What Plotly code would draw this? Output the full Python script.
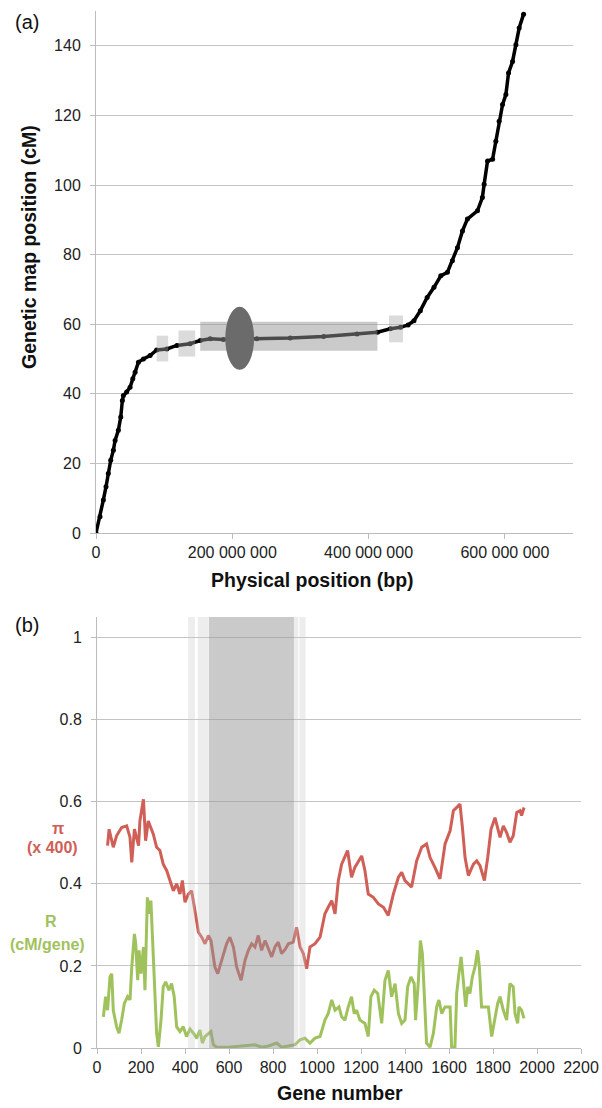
import plotly.graph_objects as go

# ---------------- Panel (a): genetic vs physical map ----------------
phys_pos_bp = [0, 5.9e6, 10.8e6, 14.7e6, 18e6, 21.6e6, 25.5e6, 28e6, 32.8e6, 36.3e6,
               38.7e6, 40.2e6, 45e6, 50e6, 54e6, 57.4e6, 62.3e6, 69.6e6, 79.4e6, 89e6,
               104e6, 118.7e6, 138e6, 153e6, 167.6e6, 187e6, 236e6, 285e6, 334e6, 383e6,
               413e6, 432e6, 447e6, 458e6, 466.6e6, 476e6, 486e6, 496e6, 506e6, 515.7e6,
               523e6, 530.4e6, 537.8e6, 545e6, 559.8e6, 567e6, 569.6e6, 574.6e6, 582e6,
               586.8e6, 591.6e6, 596.6e6, 601.5e6, 605.4e6, 611.3e6, 616.2e6, 621e6, 627.5e6]
map_pos_cm = [0, 4.7, 9.5, 13.3, 17.1, 20.9, 23.8, 26.6, 29.5, 33.3,
              38.1, 39.5, 40.5, 41.9, 44.3, 46.2, 49.1, 50.0, 51.0, 52.6,
              52.9, 53.9, 54.4, 55.3, 55.8, 55.6, 55.8, 56.0, 56.5, 57.2,
              57.7, 58.7, 59.1, 59.8, 61.0, 63.9, 67.7, 70.6, 73.9, 74.9,
              78.2, 82.0, 86.8, 90.2, 92.6, 96.4, 100.2, 106.9, 107.4,
              112.6, 118.3, 123.1, 126.0, 132.2, 135.5, 140.3, 145.1, 149.1]

xa_tickvals = [0, 200e6, 400e6, 600e6]
xa_ticktext = ["0", "200 000 000", "400 000 000", "600 000 000"]
ya_tickvals = [0, 20, 40, 60, 80, 100, 120, 140]

# highlighted boxes: (x0, x1, y0, y1)
box_x0 = [89e6, 121e6, 153e6, 430e6]
box_x1 = [106e6, 145.6e6, 413e6, 450.5e6]
box_y0 = [49.3, 50.7, 52.4, 54.8]
box_y1 = [56.7, 58.2, 60.7, 62.5]
ellipse_x = [189.7e6, 232e6]
ellipse_y = [46.9, 65.0]

# ---------------- Panel (b): pi and R along genes ----------------
pi_gene = [48, 55, 74, 89, 112, 135, 150, 158, 170, 189, 195, 211, 221, 233, 256, 271, 286,
           301, 317, 332, 347, 362, 377, 388, 400, 415, 430, 445, 461, 476, 491, 506, 518,
           536, 549, 567, 589, 604, 620, 635, 655, 673, 688, 703, 718, 733, 748, 764, 779,
           794, 809, 824, 839, 855, 870, 892, 907, 923, 938, 953, 968, 991, 1014, 1036,
           1051, 1067, 1082, 1097, 1112, 1139, 1157, 1172, 1203, 1218, 1233, 1256, 1279,
           1302, 1324, 1347, 1370, 1385, 1400, 1430, 1453, 1476, 1498, 1514, 1536, 1559,
           1582, 1605, 1620, 1650, 1661, 1673, 1688, 1711, 1726, 1741, 1761, 1776, 1791,
           1809, 1832, 1847, 1862, 1877, 1892, 1908, 1923, 1930, 1941]
pi_val = [0.493, 0.533, 0.489, 0.517, 0.537, 0.541, 0.513, 0.452, 0.533, 0.493, 0.553, 0.606,
          0.505, 0.553, 0.521, 0.489, 0.481, 0.448, 0.432, 0.408, 0.383, 0.400, 0.375, 0.408,
          0.355, 0.375, 0.383, 0.335, 0.282, 0.270, 0.254, 0.274, 0.262, 0.197, 0.181, 0.214,
          0.254, 0.270, 0.246, 0.197, 0.165, 0.214, 0.238, 0.254, 0.246, 0.274, 0.238, 0.262,
          0.240, 0.222, 0.246, 0.258, 0.230, 0.240, 0.254, 0.258, 0.294, 0.246, 0.230, 0.193,
          0.246, 0.254, 0.270, 0.327, 0.343, 0.359, 0.327, 0.408, 0.448, 0.481, 0.416, 0.440,
          0.468, 0.432, 0.375, 0.367, 0.351, 0.343, 0.323, 0.375, 0.416, 0.428, 0.408, 0.392,
          0.456, 0.489, 0.497, 0.464, 0.440, 0.412, 0.497, 0.529, 0.578, 0.594, 0.537, 0.464,
          0.420, 0.448, 0.456, 0.444, 0.408, 0.464, 0.533, 0.561, 0.513, 0.541, 0.525, 0.501,
          0.517, 0.574, 0.578, 0.566, 0.586]

r_gene = [29, 39, 48, 59, 67, 74, 89, 100, 112, 124, 139, 150, 158, 170, 176, 185, 191, 200,
          211, 218, 229, 238, 245, 251, 260, 271, 279, 291, 301, 312, 327, 339, 351, 362, 377,
          392, 407, 423, 438, 453, 468, 479, 491, 506, 518, 529, 544, 597, 658, 718, 748, 779,
          817, 839, 870, 900, 923, 945, 968, 991, 1014, 1036, 1051, 1067, 1082, 1100, 1112,
          1127, 1142, 1157, 1169, 1180, 1195, 1218, 1233, 1245, 1260, 1276, 1294, 1309, 1324,
          1339, 1355, 1370, 1385, 1400, 1412, 1427, 1442, 1448, 1461, 1470, 1479, 1488, 1498,
          1514, 1529, 1544, 1554, 1567, 1582, 1605, 1612, 1627, 1635, 1645, 1655, 1665, 1676,
          1685, 1695, 1706, 1718, 1730, 1738, 1748, 1764, 1779, 1794, 1806, 1821, 1832, 1847,
          1862, 1877, 1892, 1900, 1912, 1918, 1930, 1941]
r_val = [0.076, 0.125, 0.092, 0.173, 0.181, 0.092, 0.052, 0.036, 0.068, 0.108, 0.125, 0.117,
         0.197, 0.278, 0.254, 0.165, 0.238, 0.181, 0.246, 0.141, 0.367, 0.327, 0.359, 0.287,
         0.141, 0.036, 0.003, 0.068, 0.149, 0.161, 0.141, 0.157, 0.125, 0.052, 0.040, 0.052,
         0.028, 0.046, 0.036, 0.024, 0.044, 0.012, 0.028, 0.036, 0.040, 0.008, 0.002, 0.002,
         0.005, 0.008, 0.002, 0.005, 0.012, 0.002, 0.005, 0.008, 0.020, 0.024, 0.012, 0.024,
         0.028, 0.068, 0.084, 0.117, 0.092, 0.100, 0.076, 0.068, 0.100, 0.125, 0.084, 0.092,
         0.068, 0.060, 0.028, 0.125, 0.141, 0.133, 0.060, 0.165, 0.189, 0.125, 0.157, 0.084,
         0.060, 0.068, 0.149, 0.173, 0.157, 0.068, 0.165, 0.262, 0.230, 0.125, 0.012, 0.002,
         0.036, 0.100, 0.117, 0.084, 0.100, 0.100, 0.002, 0.002, 0.133, 0.181, 0.222, 0.165,
         0.100, 0.149, 0.133, 0.173, 0.197, 0.238, 0.197, 0.100, 0.100, 0.100, 0.028, 0.068,
         0.108, 0.125, 0.092, 0.068, 0.157, 0.149, 0.084, 0.060, 0.100, 0.092, 0.072]

xb_tickvals = list(range(0, 2201, 200))
yb_tickvals = [0, 0.2, 0.4, 0.6, 0.8, 1]
yb_ticktext = ["0", "0.2", "0.4", "0.6", "0.8", "1"]

# shaded gene bands: (start, end)
band_dark = [(509, 895)]
band_light = [(414, 445), (458, 508), (895, 915), (920, 948)]

RED = "#cf5f57"
GREEN = "#9fc25c"
GRID = "#c4c4c4"
FONT = "Liberation Sans"

fig = go.Figure()
fig.add_trace(go.Scatter(x=phys_pos_bp, y=map_pos_cm, mode="lines+markers",
                         line=dict(color="black", width=3.5),
                         marker=dict(color="black", size=5),
                         xaxis="x", yaxis="y", showlegend=False, hoverinfo="skip"))
fig.add_trace(go.Scatter(x=pi_gene, y=pi_val, mode="lines",
                         line=dict(color=RED, width=3),
                         xaxis="x2", yaxis="y2", showlegend=False))
fig.add_trace(go.Scatter(x=r_gene, y=r_val, mode="lines",
                         line=dict(color=GREEN, width=3),
                         xaxis="x2", yaxis="y2", showlegend=False))

shapes = []
for i in range(len(box_x0)):
    big = (box_x1[i] - box_x0[i]) > 100e6
    shapes.append(dict(type="rect", xref="x", yref="y", layer="above",
                       x0=box_x0[i], x1=box_x1[i], y0=box_y0[i], y1=box_y1[i],
                       fillcolor="rgba(150,150,150,0.5)" if big else "rgba(170,170,170,0.42)",
                       line=dict(width=0)))
shapes.append(dict(type="circle", xref="x", yref="y", layer="above",
                   x0=ellipse_x[0], x1=ellipse_x[1], y0=ellipse_y[0], y1=ellipse_y[1],
                   fillcolor="#6b6b6b", line=dict(width=0)))
for a, b in band_light:
    shapes.append(dict(type="rect", xref="x2", yref="paper", layer="above",
                       x0=a, x1=b, y0=1 - 1048 / 1108, y1=1 - 617 / 1108,
                       fillcolor="rgba(200,200,200,0.32)", line=dict(width=0)))
for a, b in band_dark:
    shapes.append(dict(type="rect", xref="x2", yref="paper", layer="above",
                       x0=a, x1=b, y0=1 - 1048 / 1108, y1=1 - 617 / 1108,
                       fillcolor="rgba(150,150,150,0.5)", line=dict(width=0)))

axis_common = dict(showline=True, linecolor="#bcbcbc", linewidth=1, ticks="outside",
                   tickcolor="#bcbcbc", ticklen=5, zeroline=False, automargin=False,
                   tickfont=dict(family=FONT, size=16, color="#222"))

fig.update_layout(
    width=602, height=1108,
    margin=dict(l=0, r=0, t=0, b=0),
    paper_bgcolor="white", plot_bgcolor="white",
    font=dict(family=FONT, color="#111"),
    shapes=shapes,
    xaxis=dict(domain=[96 / 602, 573 / 602], range=[0, 700e6], anchor="y",
               tickmode="array", tickvals=xa_tickvals, ticktext=xa_ticktext,
               showgrid=False, **axis_common),
    yaxis=dict(domain=[1 - 533 / 1108, 1 - 11 / 1108], range=[0, 150], anchor="x",
               tickmode="array", tickvals=ya_tickvals, showgrid=True, gridcolor=GRID,
               gridwidth=1, ticklabelstandoff=6, **axis_common),
    xaxis2=dict(domain=[97 / 602, 581 / 602], range=[0, 2200], anchor="y2",
                tickmode="array", tickvals=xb_tickvals, showgrid=False, **axis_common),
    yaxis2=dict(domain=[1 - 1048 / 1108, 1 - 617 / 1108], range=[0, 1.05], anchor="x2",
                tickmode="array", tickvals=yb_tickvals, ticktext=yb_ticktext,
                showgrid=True, gridcolor=GRID, gridwidth=1, ticklabelstandoff=6,
                **axis_common),
)

def ann(text, x, y, size, color="#111", bold=False, angle=0):
    fig.add_annotation(text=f"<b>{text}</b>" if bold else text, x=x / 602, y=1 - y / 1108,
                       xref="paper", yref="paper", showarrow=False, textangle=angle,
                       font=dict(family=FONT, size=size, color=color),
                       xanchor="center", yanchor="middle")

ann("(a)", 27, 22, 20)
ann("(b)", 27, 625, 20)
ann("Genetic map position (cM)", 29, 247, 19.5, bold=True, angle=-90)
ann("Physical position (bp)", 312, 580, 19.5, bold=True)
ann("Gene number", 340, 1093, 19.5, bold=True)
ann("π", 58, 828, 16, color=RED, bold=True)
ann("(x 400)", 53, 847, 16, color=RED, bold=True)
ann("R", 51, 922, 16, color=GREEN, bold=True)
ann("(cM/gene)", 47, 944, 16, color=GREEN, bold=True)

fig.write_html("out.html",
               config={"displayModeBar": False},
               post_script="document.body.style.margin='0';"
                           "document.body.style.overflow='hidden';")
